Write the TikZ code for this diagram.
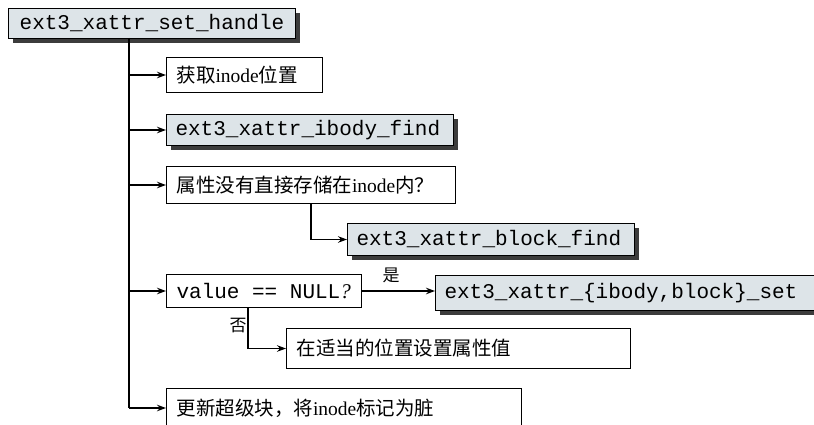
\documentclass[tikz,border=0pt]{standalone}
\usepackage{fontspec}
\setmainfont{Liberation Serif}
\setmonofont{Liberation Mono}
\newfontfamily\cjk{Noto Sans CJK SC}
\usetikzlibrary{arrows.meta,shadows}
\definecolor{boxgray}{HTML}{DDE4E8}
\definecolor{shadowgray}{HTML}{3C3C3C}
\newcommand{\msp}{\hspace{0.6em}}
\tikzset{
  plainbox/.style={draw=black, line width=1pt, fill=white, anchor=north west,
    inner xsep=10pt, inner ysep=0pt, align=left,
    font=\fontsize{19.5}{22}\selectfont},
  codebox/.style={draw=black, line width=1pt, fill=boxgray, anchor=north west,
    inner xsep=9pt, inner ysep=0pt, align=left,
    font=\fontsize{21}{24}\selectfont\ttfamily,
    drop shadow={shadow xshift=4.5pt, shadow yshift=-4.5pt, fill=shadowgray, opacity=1}},
  conn/.style={line width=1.3pt, draw=black},
  arr/.style={conn, -{Stealth[length=9pt,width=6.5pt]}},
  lbl/.style={font=\cjk\fontsize{17}{19}\selectfont, inner sep=0pt}
}
\begin{document}
\begin{tikzpicture}[x=1pt,y=-1pt]
\useasboundingbox (0,0) rectangle (814,425);
\fill[white] (0,0) rectangle (814,425);
\clip (0,0) rectangle (814,425);

\node[codebox, text width=269pt, minimum height=30pt, align=center] (top) at (8,8) {ext3\_xattr\_set\_handle};

\node[plainbox, text width=136pt, minimum height=35pt] (b1) at (166,57) {{\cjk 获取}inode{\cjk 位置}};
\node[codebox, text width=269pt, minimum height=31pt] (b2) at (166,114) {ext3\_xattr\_ibody\_find};
\node[plainbox, text width=269pt, minimum height=37pt] (b3) at (166,166) {{\cjk 属性没有直接存储在}inode{\cjk 内？}};
\node[codebox, text width=269pt, minimum height=32pt] (b4) at (347,223) {ext3\_xattr\_block\_find};
\node[plainbox, text width=175pt, minimum height=33pt, font=\fontsize{21}{24}\selectfont\ttfamily] (b5) at (166,274) {value\msp==\msp NULL\textrm{\textit{?}}};
\node[codebox, text width=387pt, minimum height=35pt] (b6) at (435,275) {ext3\_xattr\_\{ibody,block\}\_set};
\node[plainbox, text width=324pt, minimum height=40pt] (b7) at (286,328) {\cjk 在适当的位置设置属性值};
\node[plainbox, text width=335pt, minimum height=40pt] (b8) at (166,388) {{\cjk 更新超级块，将}inode{\cjk 标记为脏}};

\coordinate (trunk) at (129,38);
\coordinate (trunkend) at (129,408);
\coordinate (fork3) at (311,203);
\coordinate (fork5) at (248,307);

\draw[conn] (trunk) -- (trunkend);
\draw[arr] (b1.west -| trunk) -- (b1.west);
\draw[arr] (b2.west -| trunk) -- (b2.west);
\draw[arr] (b3.west -| trunk) -- (b3.west);
\draw[arr] (b5.west -| trunk) -- (b5.west);
\draw[arr] (trunkend) -- (trunkend -| b8.west);

\draw[arr] (fork3) |- (b4.west);
\draw[arr] (b5.east) -- (b5.east -| b6.west);
\draw[arr] (fork5) |- (b7.west);

\node[lbl] (yes) at (391,275) {是};
\node[lbl] (no) at (238,326) {否};
\end{tikzpicture}
\end{document}
